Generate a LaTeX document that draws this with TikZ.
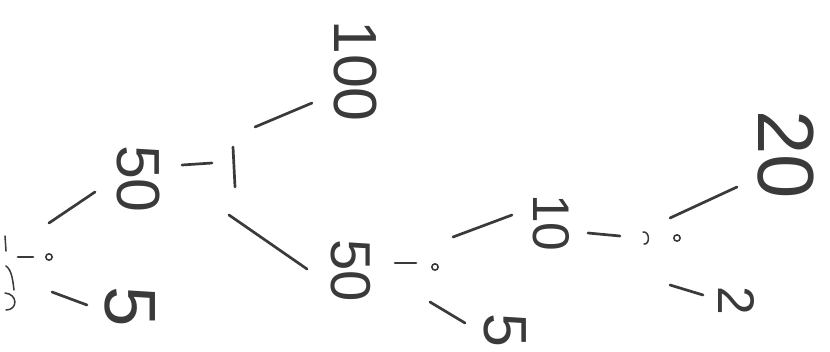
\documentclass[tikz,border=0pt]{standalone}
\usepackage{fontspec}
\setmainfont{Liberation Sans}
\definecolor{pencil}{HTML}{3A3A3A}
\tikzset{
  num/.style={rotate=-90, inner sep=0pt, text=pencil},
  pen/.style={draw=pencil, line width=2.3pt, line cap=round},
  thinpen/.style={draw=pencil, line width=1.3pt, line cap=round},
  dot/.style={circle, draw=pencil, line width=1.3pt, inner sep=0pt, minimum size=1.9mm}
}
\newcommand{\fs}[1]{\fontsize{#1}{#1}\selectfont}
\begin{document}
\begin{tikzpicture}[x=0.3mm, y=-0.3mm]
\useasboundingbox (0,0) rectangle (830,351);

% numbers of the tree
\node[num, font=\fs{52}] (n100) at (355,71) {100};
\node[num, font=\fs{52}] (top50) at (138,179) {50};
\node[num, font=\fs{48}] (low50) at (351,271) {50};
\node[num, font=\fs{62}] (left5) at (130,307) {5};
\node[num, font=\fs{68}] (n20) at (786,155) {20};
\node[num, font=\fs{44}] (n10) at (551,223) {10};
\node[num, font=\fs{52}] (mid5) at (505,330) {5};
\node[num, font=\fs{44}] (n2) at (736,301) {2};

% times dots
\node[dot] (dotL) at (49,257) {};
\node[dot] (dotM) at (435,267) {};
\node[dot] (dotR) at (677,238) {};

% stroke ends
\coordinate (s1a) at (312,103); \coordinate (s1b) at (255,127);
\coordinate (bar1) at (233,147); \coordinate (bar2) at (235,187);
\coordinate (s3a) at (182,165); \coordinate (s3b) at (212,163);
\coordinate (s4a) at (229,215); \coordinate (s4b) at (307,269);
\coordinate (s5a) at (95,192);  \coordinate (s5b) at (49,223);
\coordinate (s6a) at (52,292);  \coordinate (s6b) at (87,305);
\coordinate (s7a) at (18,257);  \coordinate (s7b) at (33,257);
\coordinate (s8a) at (395,263); \coordinate (s8b) at (416,263);
\coordinate (s9a) at (512,215); \coordinate (s9b) at (453,237);
\coordinate (s10a) at (430,302); \coordinate (s10b) at (465,323);
\coordinate (s11a) at (588,233); \coordinate (s11b) at (620,236);
\coordinate (s12a) at (737,187); \coordinate (s12b) at (670,218);
\coordinate (s13a) at (670,285); \coordinate (s13b) at (703,295);

% branches
\draw[pen] (s1a) -- (s1b);
\draw[pen] (bar1) -- (bar2);
\draw[pen] (s3a) -- (s3b);
\draw[pen] (s4a) -- (s4b);
\draw[pen] (s5a) -- (s5b);
\draw[pen] (s6a) -- (s6b);
\draw[pen] (s7a) -- (s7b);
\draw[pen] (s8a) -- (s8b);
\draw[pen] (s9a) -- (s9b);
\draw[pen] (s10a) -- (s10b);
\draw[pen] (s11a) -- (s11b);
\draw[pen] (s12a) -- (s12b);
\draw[pen] (s13a) -- (s13b);

% small marks
\draw[thinpen] (643,232) .. controls (650,231) and (650,245) .. (644,244);
\draw[thinpen] (5,236) -- (6,251);
\draw[thinpen] (6,266) .. controls (12,270) and (13,282) .. (14,290);
\draw[thinpen] (5,293) .. controls (18,294) and (18,310) .. (6,310);
\end{tikzpicture}
\end{document}
